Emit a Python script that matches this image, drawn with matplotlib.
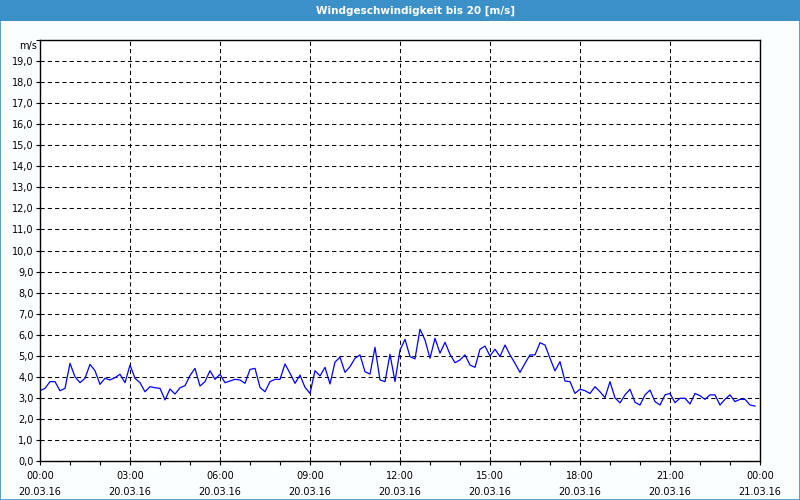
import matplotlib
matplotlib.use("Agg")
import matplotlib.pyplot as plt
import matplotlib.dates as mdates
from matplotlib.patches import Rectangle
from matplotlib.ticker import MultipleLocator, FuncFormatter
import pandas as pd

# wind speed in m/s, one reading every 10 minutes from 20.03.16 00:00
speed = [
    3.34, 3.45, 3.77, 3.77, 3.34, 3.45, 4.64, 4.00, 3.72, 3.93, 4.59, 4.29,
    3.64, 3.93, 3.85, 3.96, 4.12, 3.72, 4.56, 3.93, 3.72, 3.29, 3.53, 3.48,
    3.45, 2.90, 3.42, 3.18, 3.48, 3.58, 4.06, 4.40, 3.56, 3.77, 4.29, 3.88,
    4.12, 3.72, 3.80, 3.88, 3.85, 3.69, 4.35, 4.40, 3.50, 3.29, 3.77, 3.88,
    3.88, 4.61, 4.17, 3.69, 4.08, 3.50, 3.21, 4.29, 4.04, 4.45, 3.66, 4.70,
    4.93, 4.21, 4.48, 4.88, 5.04, 4.24, 4.13, 5.40, 3.85, 3.77, 5.07, 3.77,
    5.27, 5.78, 4.96, 4.85, 6.26, 5.75, 4.88, 5.83, 5.12, 5.64, 5.07, 4.67,
    4.80, 5.04, 4.56, 4.45, 5.31, 5.46, 4.99, 5.31, 4.96, 5.51, 5.04, 4.64,
    4.21, 4.64, 5.04, 5.04, 5.62, 5.51, 4.88, 4.28, 4.72, 3.80, 3.77, 3.21,
    3.41, 3.34, 3.21, 3.53, 3.29, 3.01, 3.77, 3.00, 2.76, 3.14, 3.41, 2.79,
    2.66, 3.14, 3.37, 2.82, 2.66, 3.14, 3.21, 2.77, 2.98, 2.98, 2.71, 3.21,
    3.10, 2.93, 3.14, 3.14, 2.66, 2.93, 3.14, 2.82, 2.93, 2.93, 2.66, 2.61,
]
start = "2016-03-20 00:00"
end = "2016-03-21 00:00"
title = "Windgeschwindigkeit bis 20 [m/s]"
unit = "m/s"

times = pd.date_range(start, periods=len(speed), freq="10min")

blue = "#3c90c8"
plt.rcParams["font.family"] = ["DejaVu Sans"]

fig = plt.figure(figsize=(8, 5), dpi=100, facecolor="#fbfefe")
ax = fig.add_axes([0.05, 0.078, 0.90, 0.842])

# title bar and window border
fig.patches.append(Rectangle((0, 1 - 21 / 500), 1, 21 / 500, transform=fig.transFigure,
                             facecolor=blue, edgecolor="none", zorder=0))
fig.patches.append(Rectangle((0.0006, 0.001), 0.9988, 0.998, transform=fig.transFigure,
                             fill=False, edgecolor=blue, lw=1.2, zorder=5))
fig.text(416 / 800, 1 - 10.5 / 500, title, color="white", fontsize=7.5,
         fontweight="bold", ha="center", va="center")

ax.plot(times, speed, color="#0000ff", lw=0.9)

ax.set_xlim(pd.Timestamp(start), pd.Timestamp(end))
ax.set_ylim(0, 20)

ax.yaxis.set_major_locator(MultipleLocator(1))
ax.yaxis.set_major_formatter(FuncFormatter(
    lambda v, p: "" if v > 19.5 else f"{v:.1f}".replace(".", ",")))
ax.xaxis.set_major_locator(mdates.HourLocator(byhour=range(0, 24, 3)))
ax.xaxis.set_minor_locator(mdates.HourLocator())
ax.xaxis.set_major_formatter(mdates.DateFormatter("%H:%M\n%d.%m.%y"))

ax.grid(True, which="major", color="black", lw=0.75, linestyle=(0, (4, 3)))
for s in ax.spines.values():
    s.set_color("black")
    s.set_linewidth(1.0)

ax.tick_params(axis="both", which="both", direction="out", length=3, width=0.8,
               labelsize=7, colors="black")
ax.tick_params(axis="y", pad=1.5)
ax.tick_params(axis="x", pad=4)
for lab in ax.get_xticklabels():
    lab.set_linespacing(1.75)

ax.text(-0.004, 0.985, unit, transform=ax.transAxes, ha="right", va="center", fontsize=7)

fig.savefig("out.png", dpi=100, facecolor=fig.get_facecolor())
